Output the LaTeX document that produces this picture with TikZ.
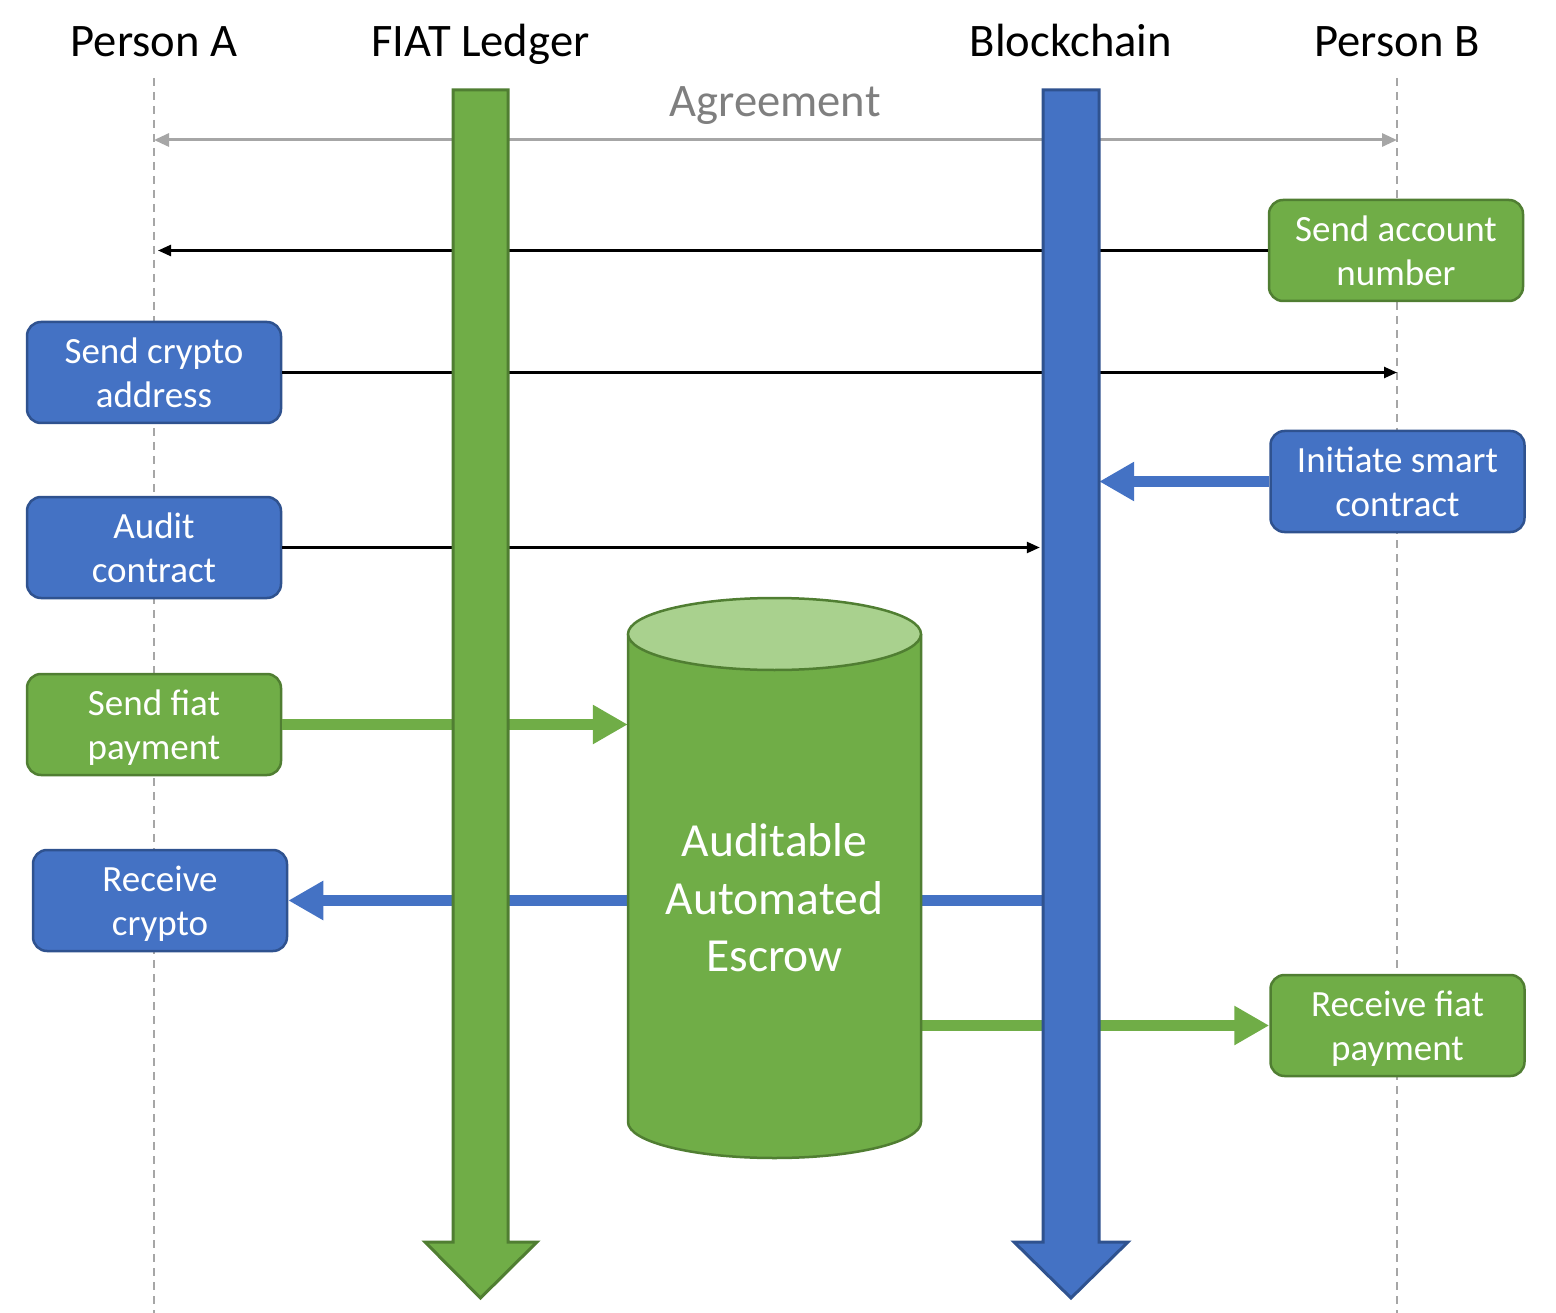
\documentclass[tikz,border=0pt]{standalone}
\usepackage{fontspec}
\setmainfont{Carlito}
\usetikzlibrary{arrows.meta}
\definecolor{grn}{HTML}{70AD47}
\definecolor{grnd}{HTML}{507E32}
\definecolor{grnl}{HTML}{A9D18E}
\definecolor{blu}{HTML}{4472C4}
\definecolor{blud}{HTML}{2F528F}
\definecolor{gry}{HTML}{A6A6A6}
\definecolor{txtgry}{HTML}{7F7F7F}
\tikzset{
  box/.style={rounded corners=14pt, minimum width=254pt, minimum height=101pt, inner sep=0pt,
    draw, line width=2.5pt, align=center, text=white, font=\fontsize{37}{44}\selectfont,
    text depth=0pt},
  gbox/.style={box, fill=grn, draw=grnd},
  bbox/.style={box, fill=blu, draw=blud},
  ttl/.style={anchor=base, font=\fontsize{46.6}{56}\selectfont},
  lifeline/.style={gry, line width=1.5pt, dash pattern=on 8pt off 6pt},
  agree/.style={gry, line width=3pt, {Triangle[length=15pt,width=13pt]}-{Triangle[length=15pt,width=13pt]}},
  thinarr/.style={black, line width=2.4pt, -{Triangle[length=13pt,width=11pt]}},
  garr/.style={grn, line width=11pt, -{Triangle[length=35pt,width=37pt]}},
  barr/.style={blu, line width=11pt, -{Triangle[length=35pt,width=37pt]}},
  shaft/.style={minimum height=1152pt, inner sep=0pt},
}
\begin{document}
\begin{tikzpicture}[x=1pt,y=1pt]
\useasboundingbox (0,0) rectangle (1556,-1313);

% titles
\node[ttl] (pA) at (154,-57) {Person A};
\node[ttl] (fiat) at (480.5,-57) {FIAT Ledger};
\node[ttl] (chain) at (1071,-57) {Blockchain};
\node[ttl] (pB) at (1397,-57) {Person B};
\node[ttl, text=txtgry] (agr) at (775,-117) {Agreement};

% lifelines
\coordinate (laA) at (154,-78);
\coordinate (laB) at (1397,-78);
\coordinate (lbA) at (154,-1313);
\coordinate (lbB) at (1397,-1313);
\draw[lifeline] (laA) -- (lbA);
\draw[lifeline] (laB) -- (lbB);

% invisible helper nodes
\node[shaft, minimum width=55pt] (fsh) at (480.5,-666) {};
\node[shaft, minimum width=56pt] (bsh) at (1071,-666) {};
\node[minimum width=293pt, minimum height=524pt, inner sep=0pt] (esc) at (774.5,-878) {};

% boxes
\node[gbox] (sac) at (1396,-250.5) {Send account\\number};
\node[bbox] (sca) at (154,-372.5) {Send crypto\\address};
\node[bbox] (isc) at (1397.5,-481.5) {Initiate smart\\contract};
\node[bbox] (ac) at (154,-547.5) {Audit\\contract};
\node[gbox] (sfp) at (154,-724.5) {Send fiat\\payment};
\node[bbox] (rc) at (160,-900.5) {Receive\\crypto};
\node[gbox] (rfp) at (1397.5,-1025.5) {Receive fiat\\payment};

% connectors (behind shafts)
\draw[agree] (laA |- 0,-140) -- (laB |- 0,-140);
\draw[thinarr] (sac.west) -- ([xshift=4pt]sac.west -| laA);
\draw[thinarr] (sca.east) -- (sca.east -| laB);
\draw[thinarr] (ac.east) -- ([xshift=-3pt]ac.east -| bsh.west);
\draw[barr] (isc.west) -- (isc.west -| bsh.east);
\draw[garr] (sfp.east) -- (sfp.east -| esc.west);
\draw[barr] (bsh.west |- rc.east) -- (rc.east);
\draw[garr] (esc.east |- rfp.west) -- (rfp.west);

% shafts
\draw[fill=grn, draw=grnd, line width=3pt] (453,-90) -- (508,-90) -- (508,-1242) -- (537,-1242)
  -- (480.5,-1298) -- (425,-1242) -- (453,-1242) -- cycle;
\draw[fill=blu, draw=blud, line width=3pt] (1043,-90) -- (1099,-90) -- (1099,-1242) -- (1128,-1242)
  -- (1071,-1298) -- (1014,-1242) -- (1043,-1242) -- cycle;

% cylinder
\path[fill=grn] (628,-634) -- (628,-1122) arc[start angle=180, end angle=360, x radius=146.5, y radius=36] -- (921,-634) -- cycle;
\draw[grnd, line width=2.5pt] (628,-634) -- (628,-1122) arc[start angle=180, end angle=360, x radius=146.5, y radius=36] -- (921,-634);
\draw[fill=grnl, draw=grnd, line width=2.5pt] (774.5,-634) ellipse[x radius=146.5, y radius=36];
\node[text=white, align=center, font=\fontsize{47.5}{57.5}\selectfont] (esctxt) at (774.5,-898) {Auditable\\Automated\\Escrow};
\end{tikzpicture}
\end{document}
